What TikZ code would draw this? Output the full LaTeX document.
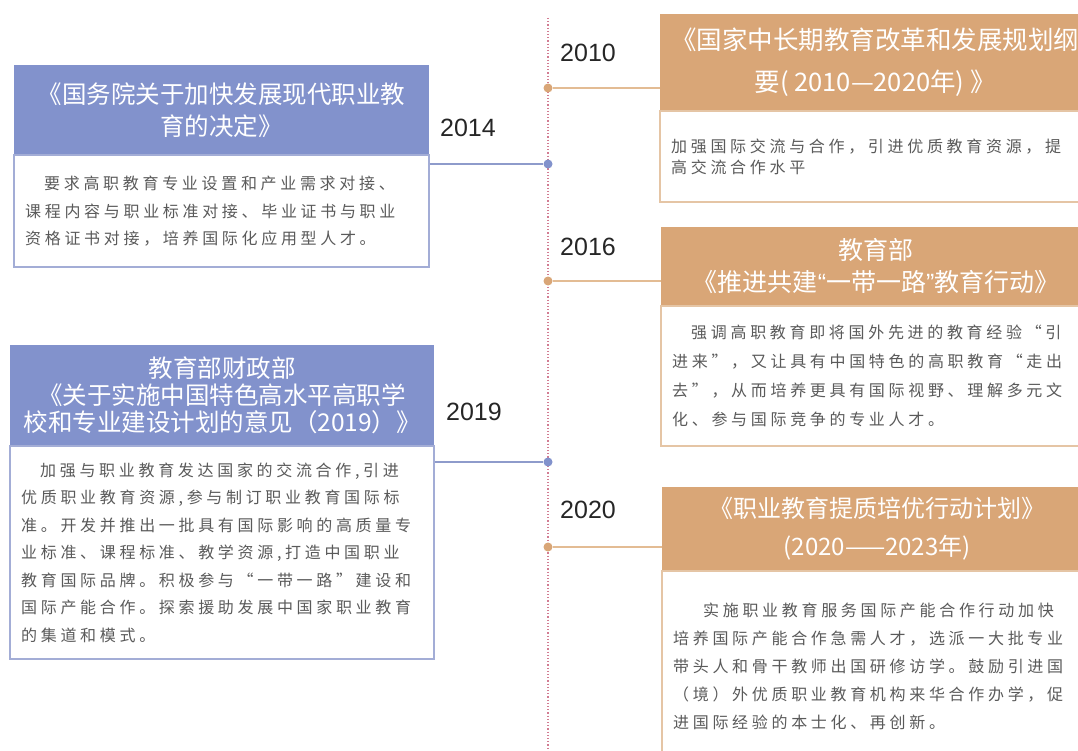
\documentclass[tikz,border=0pt]{standalone}
\usepackage{fontspec}
\setmainfont{Liberation Sans}
\newfontfamily\cjkfont{Noto Sans CJK SC}
\newfontfamily\cjkbody[LetterSpace=23]{Noto Sans CJK SC}
\usetikzlibrary{positioning}
\definecolor{leftblue}{HTML}{8292CC}
\definecolor{rightorange}{HTML}{D9A677}
\definecolor{blueline}{HTML}{8E9BCB}
\definecolor{orangeline}{HTML}{E3BC94}
\definecolor{blueframe}{HTML}{A3ADD6}
\definecolor{orangeframe}{HTML}{E5C5A5}
\definecolor{timeline}{HTML}{D27C92}
\definecolor{bodytext}{HTML}{5A5A5A}

\begin{document}
\begin{tikzpicture}[x=1pt,y=-1pt,
    lhead/.style={fill=leftblue, text=white, anchor=north west, inner sep=0pt, align=center, font=\cjkfont\fontsize{24.5}{32}\selectfont},
    rhead/.style={lhead, fill=rightorange},
    lbody/.style={draw=blueframe, line width=1.5pt, fill=white, inner xsep=11pt, inner ysep=0pt, align=left, text=bodytext, font=\cjkbody\fontsize{16}{27.5}\selectfont},
    rbody/.style={lbody, draw=orangeframe},
    year/.style={font=\fontsize{25}{30}\selectfont, text=black!85},
    bluedot/.style={circle, fill=leftblue, inner sep=0pt, minimum size=9pt},
    orangedot/.style={bluedot, fill=rightorange}]
  \useasboundingbox (0,0) rectangle (1078,751);
  \clip (0,0) rectangle (1078,751);
  \coordinate (top) at (548,18);
  \coordinate (bottom) at (548,751);
  \draw[timeline, line width=1.2pt, dotted] (top) -- (bottom);

  \node[lhead, minimum width=415pt, minimum height=89pt] (lh1) at (14,65) {《国务院关于加快发展现代职业教\\育的决定》};
  \node[lbody, below=0pt of lh1, text width=393pt, minimum height=112pt] (lb1) {\hspace*{19pt}要求高职教育专业设置和产业需求对接、\\课程内容与职业标准对接、毕业证书与职业\\资格证书对接，培养国际化应用型人才。};

  \node[lhead, minimum width=424pt, minimum height=100pt, font=\cjkfont\fontsize{24.5}{27}\selectfont] (lh2) at (10,345) {教育部财政部\\《关于实施中国特色高水平高职学\\校和专业建设计划的意见（2019）》};
  \node[lbody, below=0pt of lh2, text width=402pt, minimum height=213pt] (lb2) {\hspace*{19pt}加强与职业教育发达国家的交流合作,引进\\优质职业教育资源,参与制订职业教育国际标\\准。开发并推出一批具有国际影响的高质量专\\业标准、课程标准、教学资源,打造中国职业\\教育国际品牌。积极参与“一带一路”建设和\\国际产能合作。探索援助发展中国家职业教育\\的集道和模式。};

  \node[rhead, minimum width=430pt, minimum height=96pt, font=\cjkfont\fontsize{25.5}{42}\selectfont] (rh1) at (660,14) {《国家中长期教育改革和发展规划纲\\要( 2010—2020年) 》};
  \node[rbody, below=0pt of rh1, text width=408pt, minimum height=91pt, font=\cjkbody\fontsize{16}{21}\selectfont] (rb1) {加强国际交流与合作，引进优质教育资源，提\\高交流合作水平};

  \node[rhead, minimum width=430pt, minimum height=78pt, font=\cjkfont\fontsize{25}{32}\selectfont] (rh2) at (661,227) {教育部\\《推进共建{\rmfamily“}一带一路{\rmfamily”}教育行动》};
  \node[rbody, below=0pt of rh2, text width=408pt, minimum height=140pt, font=\cjkbody\fontsize{16}{29}\selectfont] (rb2) {\hspace*{19pt}强调高职教育即将国外先进的教育经验“引\\进来”，又让具有中国特色的高职教育“走出\\去”，从而培养更具有国际视野、理解多元文\\化、参与国际竞争的专业人才。};

  \node[rhead, minimum width=430pt, minimum height=83pt, font=\cjkfont\fontsize{24}{38}\selectfont] (rh3) at (662,487) {《职业教育提质培优行动计划》\\(2020——2023年)};
  \node[rbody, below=0pt of rh3, text width=408pt, minimum height=190pt, font=\cjkbody\fontsize{16}{28}\selectfont] (rb3) {\hspace*{30pt}实施职业教育服务国际产能合作行动加快\\培养国际产能合作急需人才，选派一大批专业\\带头人和骨干教师出国研修访学。鼓励引进国\\（境）外优质职业教育机构来华合作办学，促\\进国际经验的本士化、再创新。};

  \node[year] (y2010) at (588,53) {2010};
  \node[year] (y2014) at (468,128) {2014};
  \node[year] (y2016) at (588,247) {2016};
  \node[year] (y2019) at (474,412) {2019};
  \node[year] (y2020) at (588,510) {2020};

  \node[orangedot] (d2010) at (548,88) {};
  \node[bluedot] (d2014) at (548,164) {};
  \node[orangedot] (d2016) at (548,281) {};
  \node[bluedot] (d2019) at (548,462) {};
  \node[orangedot] (d2020) at (548,547) {};

  \draw[orangeline, line width=2pt] (d2010) -- (d2010 -| rh1.west);
  \draw[blueline, line width=2pt] (d2014 -| lb1.east) -- (d2014);
  \draw[orangeline, line width=2pt] (d2016) -- (d2016 -| rh2.west);
  \draw[blueline, line width=2pt] (d2019 -| lb2.east) -- (d2019);
  \draw[orangeline, line width=2pt] (d2020) -- (d2020 -| rh3.west);
\end{tikzpicture}
\end{document}
